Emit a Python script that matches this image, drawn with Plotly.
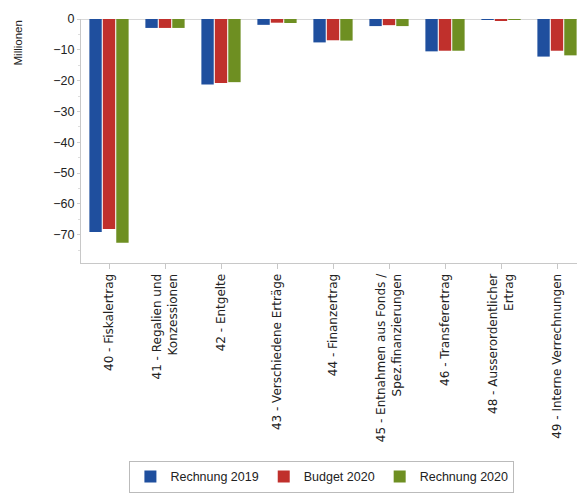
import plotly.graph_objects as go

categories = [
    "40 - Fiskalertrag",
    "41 - Regalien und<br>Konzessionen",
    "42 - Entgelte",
    "43 - Verschiedene Erträge",
    "44 - Finanzertrag",
    "45 - Entnahmen aus Fonds /<br>Spez.finanzierungen",
    "46 - Transferertrag",
    "48 - Ausserordentlicher<br>Ertrag",
    "49 - Interne Verrechnungen",
]
rechnung_2019 = [-69.1, -2.9, -21.3, -1.9, -7.6, -2.3, -10.5, -0.3, -12.2]
budget_2020 = [-68.2, -2.9, -20.8, -1.2, -6.9, -2.0, -10.3, -0.6, -10.3]
rechnung_2020 = [-72.6, -2.9, -20.5, -1.3, -7.0, -2.3, -10.3, -0.3, -11.8]
series_names = ["Rechnung 2019", "Budget 2020", "Rechnung 2020"]
colors = ["#1f4f9e", "#c0302c", "#6e8f22"]
y_ticks = [0, -10, -20, -30, -40, -50, -60, -70]

fig = go.Figure()
for name, vals, col in zip(series_names, [rechnung_2019, budget_2020, rechnung_2020], colors):
    fig.add_trace(go.Bar(x=categories, y=vals, name=name, marker=dict(color=col, line=dict(width=0))))

fig.update_layout(
    width=577, height=485,
    margin=dict(l=73, r=0, t=11, b=225),
    paper_bgcolor="white", plot_bgcolor="white",
    font=dict(family="Liberation Sans, Arial, sans-serif", size=12, color="#222"),
    barmode="group", bargap=0.28, bargroupgap=0.08,
    showlegend=True,
    legend=dict(orientation="h", x=0.478, xanchor="center", y=-0.811, yanchor="top",
                bordercolor="#bbbbbb", borderwidth=1, font=dict(size=12.5),
                itemwidth=30, tracegroupgap=0),
    xaxis=dict(tickangle=-90, showline=True, linecolor="#c8c8c8", linewidth=1,
               ticks="outside", ticklen=5, tickcolor="#c8c8c8",
               tickfont=dict(size=12, family="DejaVu Sans"),
               showgrid=False, automargin=False),
    yaxis=dict(range=[-79.2, 0], tickvals=y_ticks, showline=True, linecolor="#c8c8c8",
               linewidth=1, ticks="outside", ticklen=3, tickcolor="#d0d0d0",
               showgrid=False, zeroline=True, zerolinecolor="#d8d8d8", zerolinewidth=1,
               tickfont=dict(size=12.5), automargin=False,
               minor=dict(ticks="outside", ticklen=2, tickcolor="#dddddd", dtick=5)),
    annotations=[dict(text="Millionen", x=-64/504, xref="paper", y=1.0, yref="paper",
                      showarrow=False, textangle=-90, font=dict(size=11.5),
                      xanchor="center", yanchor="top")],
)
fig.write_html("out.html")
